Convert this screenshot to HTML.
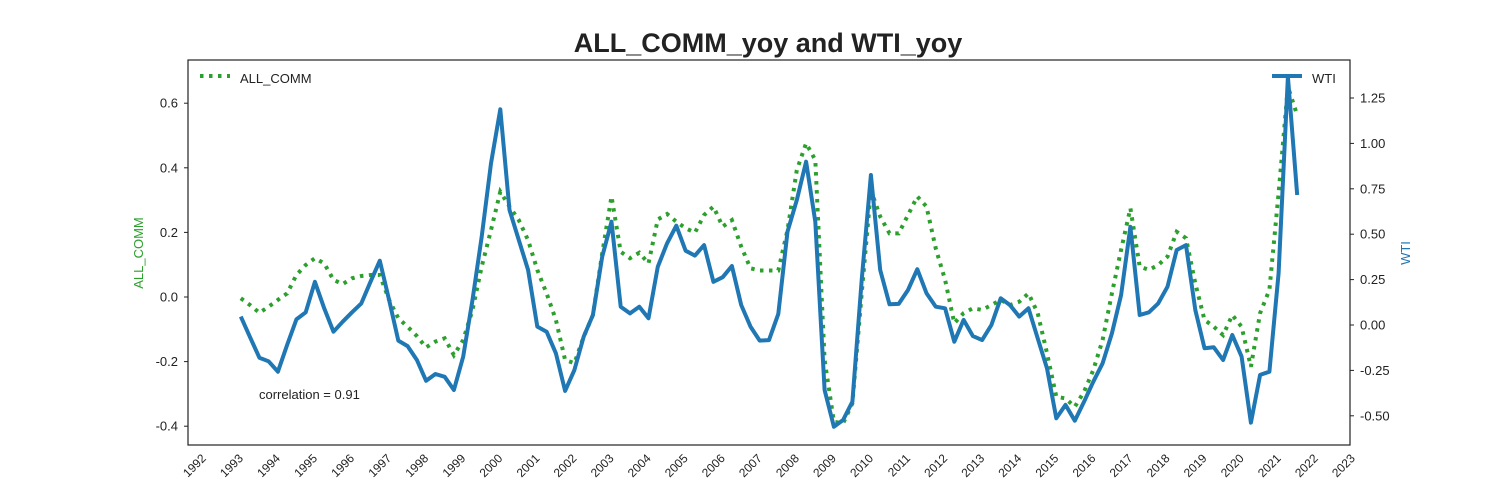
<!DOCTYPE html>
<html><head><meta charset="utf-8"><style>
html,body{margin:0;padding:0;background:#fff;}
svg{display:block;font-family:"Liberation Sans",Arial,sans-serif;}
</style></head><body>
<svg id="chart" width="1500" height="500" viewBox="0 0 1500 500">
<rect width="1500" height="500" fill="#fff"/>
<text x="768" y="52" text-anchor="middle" font-size="27" font-weight="bold" fill="#222">ALL_COMM_yoy and WTI_yoy</text>
<g id="xticks"></g>
<g id="lticks"></g>
<g id="rticks"></g>
<g id="series"></g>
<rect x="188" y="60" width="1162" height="385" fill="none" stroke="#222" stroke-width="1.2"/>
<text transform="translate(143,253) rotate(-90)" text-anchor="middle" font-size="13" fill="#2ca02c">ALL_COMM</text>
<text transform="translate(1410,253) rotate(-90)" text-anchor="middle" font-size="13" fill="#1f77b4">WTI</text>
<text x="259" y="399" font-size="13" fill="#222">correlation = 0.91</text>
<g>
<line x1="200" y1="76" x2="230" y2="76" stroke="#2ca02c" stroke-width="4" stroke-dasharray="3.5 5.5"/>
<text x="240" y="83" font-size="13" fill="#222">ALL_COMM</text>
</g>
<g>
<line x1="1272" y1="76" x2="1302" y2="76" stroke="#1f77b4" stroke-width="4"/>
<text x="1312" y="83" font-size="13" fill="#222">WTI</text>
</g>
</svg>
<script>
const startYear = 1993;
const allComm = [-0.004,-0.025,-0.049,-0.03,-0.009,0.011,0.068,0.099,0.12,0.104,0.053,0.04,0.058,0.065,0.068,0.068,-0.009,-0.066,-0.092,-0.121,-0.156,-0.138,-0.128,-0.18,-0.133,-0.04,0.094,0.207,0.326,0.28,0.238,0.176,0.084,0.011,-0.071,-0.195,
-0.205,-0.123,-0.056,0.135,0.311,0.14,0.12,0.137,0.104,0.24,0.257,0.233,0.213,0.199,0.254,0.28,0.218,0.238,0.156,0.089,0.082,0.082,0.082,0.207,0.393,0.476,0.424,-0.195,-0.386,-0.391,-0.329,0.011,0.331,0.249,0.197,0.197,0.254,0.311,0.28,0.15,
0.053,-0.081,-0.05,-0.035,-0.04,-0.025,-0.009,-0.025,-0.015,0.011,-0.05,-0.174,-0.309,-0.314,-0.34,-0.293,-0.226,-0.133,0.011,0.146,0.275,0.094,0.084,0.099,0.125,0.202,0.182,0.042,-0.071,-0.092,-0.118,-0.056,-0.092,-0.216,-0.05,0.022,0.321,0.651,0.563];
const wti = [0.046,-0.068,-0.18,-0.2,-0.257,-0.11,0.031,0.07,0.238,0.092,-0.037,0.018,0.07,0.119,0.238,0.354,0.138,-0.086,-0.116,-0.193,-0.307,-0.27,-0.285,-0.358,-0.174,0.138,0.486,0.89,1.188,0.633,0.468,0.303,-0.009,-0.037,-0.156,-0.363,
-0.248,-0.064,0.055,0.376,0.569,0.101,0.064,0.101,0.037,0.321,0.45,0.547,0.409,0.382,0.44,0.238,0.263,0.325,0.11,-0.009,-0.086,-0.083,0.061,0.514,0.688,0.899,0.569,-0.358,-0.56,-0.523,-0.422,0.248,0.826,0.303,0.114,0.116,0.193,0.307,0.175,0.101,
0.092,-0.092,0.028,-0.061,-0.083,0.0,0.147,0.11,0.046,0.092,-0.073,-0.239,-0.514,-0.44,-0.527,-0.422,-0.312,-0.211,-0.046,0.165,0.541,0.055,0.07,0.119,0.211,0.413,0.44,0.083,-0.128,-0.123,-0.193,-0.055,-0.174,-0.538,-0.275,-0.257,0.285,1.367,0.716];
const xTickYears = [1992,1993,1994,1995,1996,1997,1998,1999,2000,2001,2002,2003,2004,2005,2006,2007,2008,2009,2010,2011,2012,2013,2014,2015,2016,2017,2018,2019,2020,2021,2022,2023];
const leftTicks = [0.6,0.4,0.2,0.0,-0.2,-0.4];
const leftTickLabels = ["0.6","0.4","0.2","0.0","-0.2","-0.4"];
const rightTicks = [1.25,1.0,0.75,0.5,0.25,0,-0.25,-0.5];
const rightTickLabels = ["1.25","1.00","0.75","0.50","0.25","0.00","-0.25","-0.50"];

const NS = "http://www.w3.org/2000/svg";
const xMin = 1991.575, xMax = 2022.925;
function xScale(t){ return 188 + (t - xMin) / (xMax - xMin) * 1162; }
function yLeft(v){ return 297 - v * 323; }
function yRight(v){ return 325 - v * 181.6; }
function mk(tag, attrs, parent){ const e = document.createElementNS(NS, tag); for (const k in attrs) e.setAttribute(k, attrs[k]); parent.appendChild(e); return e; }

const gx = document.getElementById('xticks');
xTickYears.forEach(function(yr){
  const x = xScale(yr);
  const t = mk('text', {transform:'translate(' + (x + 3) + ',459) rotate(-45)', 'text-anchor':'end', 'font-size':12, fill:'#222'}, gx);
  t.textContent = String(yr);
  
  
});
const gl = document.getElementById('lticks');
leftTicks.forEach(function(v, i){
  const y = yLeft(v);
  const tk = mk('line', {x1:184, y1:y, x2:188, y2:y, stroke:'#222', 'stroke-width':1}, gl);
  
  
  const t = mk('text', {x:178, y:y + 4.5, 'text-anchor':'end', 'font-size':13, fill:'#222'}, gl);
  t.textContent = leftTickLabels[i];
  
  
});
const gr = document.getElementById('rticks');
rightTicks.forEach(function(v, i){
  const y = yRight(v);
  const tk = mk('line', {x1:1350, y1:y, x2:1354, y2:y, stroke:'#222', 'stroke-width':1}, gr);
  
  
  const t = mk('text', {x:1360, y:y + 4.5, 'text-anchor':'start', 'font-size':13, fill:'#222'}, gr);
  t.textContent = rightTickLabels[i];
  
  
});
const gs = document.getElementById('series');
function pts(arr, yf){ return arr.map(function(v, k){ return xScale(startYear + k / 4).toFixed(1) + ',' + yf(v).toFixed(1); }).join(' '); }
const pa = mk('polyline', {points:pts(allComm, yLeft), fill:'none', stroke:'#2ca02c', 'stroke-width':4, 'stroke-dasharray':'3.5 5.5'}, gs);


const pw = mk('polyline', {points:pts(wti, yRight), fill:'none', stroke:'#1f77b4', 'stroke-width':4, 'stroke-linejoin':'round'}, gs);


</script>
</body></html>
